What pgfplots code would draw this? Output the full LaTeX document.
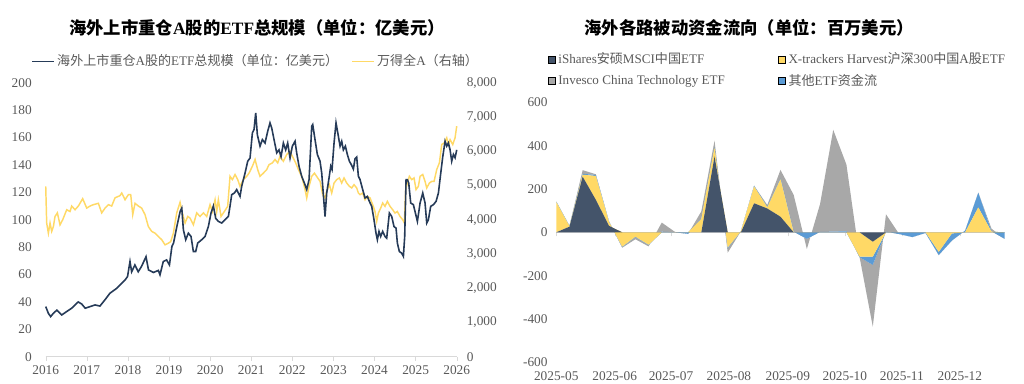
\documentclass[border=0pt]{standalone}
\usepackage{pgfplots}
\usepackage{pgfplotstable}
\pgfplotsset{compat=1.18}
\usepackage{fontspec}
\setmainfont{Liberation Serif}
\newfontfamily\cjk{Noto Sans CJK SC}
\newcommand\zh[1]{{\cjk #1}}
\definecolor{etf}{HTML}{263B58}
\definecolor{wind}{HTML}{FFD966}
\definecolor{cD}{HTML}{44546A}
\definecolor{cY}{HTML}{FFD966}
\definecolor{cG}{HTML}{A8A8A8}
\definecolor{cB}{HTML}{5B9BD5}
\definecolor{lab}{HTML}{595959}
\definecolor{axl}{HTML}{D9D9D9}

\pgfplotstableread{
i d y b g
0 0 140 2 0
1 26 2 2 0
2 257 9 4 17
3 150 110 5 3
4 30 18 2 0
5 0 -66 -2 -3
6 0 -20 -2 -10
7 0 -57 -2 -6
8 0 0 3 42
9 0 0 0 2
10 0 0 -7 0
11 0 62 3 32
12 350 40 3 30
13 0 -70 -4 -20
14 0 5 0 0
15 134 78 3 0
16 110 5 3 8
17 72 173 3 40
18 0 0 3 170
19 0 0 -30 -47
20 0 0 2 128
21 0 0 3 470
22 0 0 5 308
23 0 -112 -3 0
24 -43 -69 -38 -285
25 0 0 3 80
26 0 0 -8 0
27 0 0 -22 0
28 0 0 -3 0
29 0 -90 -15 0
30 0 -5 -33 0
31 0 0 8 0
32 0 115 68 0
33 0 3 2 12
34 0 0 -30 0
}\flows

\begin{document}
\begin{tikzpicture}
\useasboundingbox (0,0) rectangle (768pt,287.25pt);

% titles
\node[font=\fontsize{13}{15}\selectfont\bfseries] at (257*0.75pt,{(383-28)*0.75pt}) {\zh{\bfseries 海外上市重仓}A\zh{\bfseries 股的}ETF\zh{\bfseries 总规模（单位：亿美元）}};
\node[font=\fontsize{13}{15}\selectfont\bfseries] at (749*0.75pt,{(383-28)*0.75pt}) {\zh{\bfseries 海外各路被动资金流向（单位：百万美元）}};

% ---------- left chart: right axis (Wind All A) ----------
\begin{axis}[
  at={(34.3pt,19.7pt)}, anchor=south west,
  width=308.25pt, height=205.5pt, scale only axis,
  xmin=2016, xmax=2026, ymin=0, ymax=8000,
  ytick={0,1000,...,8000},
  axis x line=none, axis y line*=right,
  y axis line style={draw=none}, ytick style={draw=none},
  scaled y ticks=false,
  yticklabel style={/pgf/number format/1000 sep={,}, xshift=4pt},
  tick label style={font=\fontsize{10}{12}\selectfont, text=lab, /pgf/number format/assume math mode=true},
  clip=false,
]
\addplot[wind, line width=1.1pt] coordinates {
(2016.0,4976)(2016.023,3904)(2016.064,3608)(2016.105,3904)(2016.145,3660)(2016.186,3800)(2016.226,4096)(2016.283,4200)(2016.348,3852)(2016.413,4000)(2016.51,4292)(2016.591,4240)(2016.632,4400)(2016.713,4292)(2016.794,4400)(2016.899,4616)(2016.997,4340)(2017.078,4400)(2017.159,4440)(2017.281,4480)(2017.362,4200)(2017.443,4340)(2017.524,4440)(2017.605,4400)(2017.686,4640)(2017.808,4704)(2017.849,4780)(2017.93,4584)(2018.011,4732)(2018.068,4732)(2018.117,4148)(2018.173,4480)(2018.254,4400)(2018.335,4340)(2018.416,4148)(2018.497,3800)(2018.578,3660)(2018.66,3608)(2018.741,3512)(2018.822,3416)(2018.903,3268)(2018.984,3316)(2019.041,3360)(2019.106,3608)(2019.187,4200)(2019.268,4508)
(2019.324,4200)(2019.39,3904)(2019.455,4096)(2019.511,4048)(2019.592,3852)(2019.673,4200)(2019.754,4096)(2019.836,4200)(2019.917,4096)(2019.998,4440)(2020.054,4240)(2020.12,4584)(2020.16,4240)(2020.2,4584)(2020.265,4096)(2020.346,4240)(2020.427,4392)(2020.484,5268)(2020.541,5172)(2020.606,5320)(2020.671,5172)(2020.727,4976)(2020.808,5172)(2020.89,5268)(2020.946,5360)(2021.028,5560)(2021.093,5760)(2021.157,5464)(2021.214,5268)(2021.295,5360)(2021.376,5464)(2021.433,5608)(2021.514,5660)(2021.579,5760)(2021.644,5660)(2021.701,5852)(2021.782,5708)(2021.863,5904)(2021.944,6000)(2022.0,5852)(2022.082,5660)(2022.147,5464)(2022.228,5268)(2022.309,4880)(2022.35,4636)(2022.407,4976)(2022.472,5268)(2022.537,5360)(2022.618,5220)(2022.675,5120)
(2022.739,4732)(2022.796,4636)(2022.836,4828)(2022.901,5024)(2022.958,4780)(2023.015,5072)(2023.08,5172)(2023.145,5220)(2023.201,5072)(2023.258,5220)(2023.323,5072)(2023.388,4976)(2023.445,4928)(2023.501,5024)(2023.566,4928)(2023.607,4780)(2023.647,4732)(2023.712,4780)(2023.769,4584)(2023.826,4680)(2023.891,4636)(2023.955,4440)(2024.012,4240)(2024.053,3952)(2024.093,4196)(2024.15,4340)(2024.198,4488)(2024.255,4392)(2024.312,4536)(2024.377,4392)(2024.442,4292)(2024.498,4196)(2024.555,4240)(2024.62,4096)(2024.685,4000)(2024.726,3904)(2024.758,4880)(2024.799,5072)(2024.848,5268)(2024.904,5172)(2024.961,5220)(2025.01,4880)(2025.067,4976)(2025.108,5268)(2025.173,5320)(2025.229,5120)(2025.27,4928)(2025.335,5072)(2025.391,5120)(2025.448,5120)(2025.513,5464)(2025.578,5660)(2025.635,6196)(2025.692,6240)(2025.757,6392)(2025.797,6196)(2025.838,6340)(2025.903,6196)(2025.959,6392)(2026.0,6732)
};
\end{axis}

% ---------- left chart: left axis (ETF size) ----------
\begin{axis}[
  at={(34.3pt,19.7pt)}, anchor=south west,
  width=308.25pt, height=205.5pt, scale only axis,
  xmin=2016, xmax=2026, ymin=0, ymax=200,
  xtick={2016,...,2026}, ytick={0,20,...,200},
  axis x line*=bottom, axis y line*=left,
  x axis line style={draw=axl, -}, y axis line style={draw=none},
  xtick style={draw=axl}, ytick style={draw=none},
  tick align=outside, major tick length=3pt,
  xticklabel style={/pgf/number format/1000 sep={}},
  yticklabel style={xshift=-4pt},
  tick label style={font=\fontsize{10}{12}\selectfont, text=lab, /pgf/number format/assume math mode=true},
  legend columns=2,
  legend style={at={(0.512,1.078)}, anchor=center, draw=none, fill=none,
    font=\fontsize{9.8}{11}\selectfont, text=lab, /tikz/every even column/.append style={column sep=8pt}},
  legend image code/.code={\draw[#1] (0pt,0pt) -- (16pt,0pt);},
  clip=false,
]
\addplot[etf, line width=1.2pt] coordinates {
(2016.0,36.6)(2016.064,31.7)(2016.12,29.3)(2016.186,31.7)(2016.27,34)(2016.35,31.7)(2016.39,30.5)(2016.51,33)(2016.63,35.4)(2016.79,40)(2016.875,38.5)(2016.96,35.4)(2017.08,36.6)(2017.2,37.8)(2017.32,37)(2017.44,41.5)(2017.56,46.3)(2017.73,50)(2017.85,53.7)(2017.93,56)(2017.99,58.5)(2018.05,69.5)(2018.09,62)(2018.17,67)(2018.25,62)(2018.33,65.9)(2018.44,73)(2018.5,63.4)(2018.62,61.5)(2018.74,63)(2018.78,59.8)(2018.86,69.5)(2018.94,70.7)(2019.01,67)(2019.07,80.5)(2019.11,83)(2019.19,95)(2019.27,106)(2019.31,108.5)
(2019.349,92.7)(2019.406,85.4)(2019.47,90.2)(2019.535,87.8)(2019.592,76.8)(2019.649,76.8)(2019.698,83)(2019.795,85.4)(2019.876,87.8)(2019.957,95)(2020.022,105)(2020.079,110)(2020.136,101)(2020.2,98.8)(2020.281,97.6)(2020.363,100)(2020.444,102.4)(2020.484,110)(2020.525,118.3)(2020.59,119.5)(2020.646,122)(2020.727,117)(2020.768,124.4)(2020.849,134)(2020.914,142.7)(2020.971,145)(2021.028,163.4)(2021.068,165.9)(2021.109,178)(2021.149,162)(2021.214,153.7)(2021.271,158.5)(2021.336,156)(2021.401,164.6)(2021.457,170.7)(2021.498,167)(2021.555,158.5)(2021.62,148.8)(2021.676,151)(2021.725,146)(2021.782,156)(2021.838,151)(2021.887,156)(2021.944,145)(2022.0,153.7)(2022.066,157.3)(2022.106,148.8)(2022.163,139)(2022.228,131.7)(2022.293,126.8)(2022.35,122)(2022.407,129.3)(2022.472,168.3)
(2022.496,169.5)(2022.552,158.5)(2022.609,147.6)(2022.674,142.7)(2022.715,134)(2022.755,118.3)(2022.796,102.4)(2022.836,119.5)(2022.893,130.5)(2022.934,139)(2022.966,136.6)(2023.015,156)(2023.063,170.7)(2023.12,161)(2023.161,153.7)(2023.201,157.3)(2023.242,151)(2023.291,153.7)(2023.339,147.6)(2023.388,142.7)(2023.436,140.2)(2023.485,137)(2023.526,144.6)(2023.566,145.8)(2023.607,131.7)(2023.647,129.3)(2023.712,122)(2023.769,115.9)(2023.826,117)(2023.874,113.4)(2023.931,109.8)(2023.987,100)(2024.036,90.2)(2024.069,85.4)(2024.109,91.5)(2024.15,87.8)(2024.198,91.5)(2024.255,87.8)(2024.296,86.6)(2024.361,104.9)(2024.418,102.4)(2024.474,95)(2024.523,93.9)(2024.556,82.9)(2024.604,76.8)(2024.661,75.6)(2024.702,73.2)(2024.734,87.8)(2024.767,129.3)(2024.799,129.3)(2024.832,126.8)(2024.88,112.2)(2024.945,111)(2024.994,104.9)(2025.043,98.8)(2025.108,112.2)(2025.173,119.5)(2025.229,112.2)(2025.27,97.6)(2025.31,100)(2025.367,109.8)(2025.432,111)(2025.497,113.4)(2025.554,119.5)(2025.611,134)(2025.659,145.8)(2025.716,157.3)(2025.757,153.7)(2025.797,156)(2025.838,151)(2025.878,142.7)(2025.919,147.6)(2025.959,145.2)(2026.0,151)
};
\addlegendentry{\zh{海外上市重仓}A\zh{股的}ETF\zh{总规模（单位：亿美元）}}
\addlegendimage{wind, line width=1.2pt}
\addlegendentry{\zh{万得全}A\zh{（右轴）}}
\end{axis}

% ---------- right chart ----------
\begin{axis}[
  at={(417.2pt,15.5pt)}, anchor=south west,
  width=336.3pt, height=195pt, scale only axis,
  xmin=0, xmax=34, ymin=-600, ymax=600,
  ytick={-600,-400,...,600},
  xtick={0,4.43,8.70,13.09,17.56,21.88,26.2,30.6},
  xticklabels={2025-05,2025-06,2025-07,2025-08,2025-09,2025-10,2025-11,2025-12},
  axis x line=middle, axis y line*=left,
  hide obscured x ticks=false,
  x axis line style={draw=axl, -}, y axis line style={draw=none},
  xtick style={draw=axl}, ytick style={draw=none},
  tick align=outside, major tick length=3pt,
  xticklabel style={yshift=-98pt, anchor=north},
  tick label style={font=\fontsize{10}{12}\selectfont, text=lab, /pgf/number format/assume math mode=true},
  stack plots=y,
  legend columns=2,
  legend cell align=left,
  legend style={at={(-0.0185,1.201)}, anchor=north west, draw=none, fill=none,
    font=\fontsize{9.8}{11}\selectfont, text=lab, row sep=2pt, inner sep=0pt},
  legend image code/.code={\fill[#1] (0pt,-2.6pt) rectangle (5.2pt,2.6pt);},
]
\addplot[fill=cD, draw=none, forget plot] table[x=i, y=d] {\flows} \closedcycle;
\addplot[fill=cY, draw=none, forget plot] table[x=i, y=y] {\flows} \closedcycle;
\addplot[fill=cB, draw=none, forget plot] table[x=i, y=b] {\flows} \closedcycle;
\addplot[fill=cG, draw=none, forget plot] table[x=i, y=g] {\flows} \closedcycle;
\addlegendimage{fill=cD}
\addlegendentry{\makebox[163pt][l]{iShares\zh{安硕}MSCI\zh{中国}ETF}}
\addlegendimage{fill=cY}
\addlegendentry{X-trackers Harvest\zh{沪深}300\zh{中国}A\zh{股}ETF}
\addlegendimage{fill=cG}
\addlegendentry{\makebox[163pt][l]{Invesco China Technology ETF}}
\addlegendimage{fill=cB}
\addlegendentry{\zh{其他}ETF\zh{资金流}}
\end{axis}
\end{tikzpicture}
\end{document}
